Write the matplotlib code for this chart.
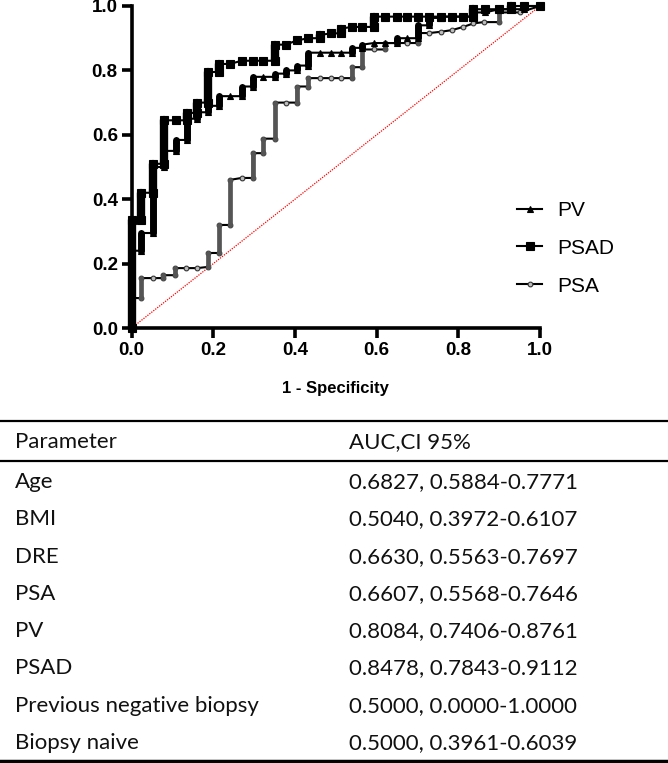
import numpy as np
import matplotlib.pyplot as plt
from matplotlib.ticker import FormatStrFormatter

# ROC points (1 - specificity, sensitivity)
pv_fpr = [0, 0, 0.024, 0.024, 0.053, 0.053, 0.080, 0.080, 0.108, 0.108, 0.135, 0.135,
          0.161, 0.161, 0.188, 0.188, 0.215, 0.215, 0.241, 0.269, 0.269, 0.298, 0.298,
          0.322, 0.351, 0.351, 0.378, 0.378, 0.404, 0.404, 0.433, 0.433, 0.460, 0.488,
          0.513, 0.539, 0.539, 0.565, 0.565, 0.593, 0.620, 0.649, 0.649, 0.675, 0.702,
          0.702, 0.729, 0.729, 0.757, 0.757, 0.784, 0.812, 0.837, 0.837, 0.865, 0.900,
          0.930, 0.960, 0.960, 1.0]
pv_tpr = [0, 0.240, 0.240, 0.295, 0.295, 0.500, 0.500, 0.550, 0.550, 0.584, 0.584, 0.650,
          0.650, 0.670, 0.670, 0.690, 0.690, 0.720, 0.720, 0.720, 0.750, 0.750, 0.780,
          0.780, 0.780, 0.790, 0.790, 0.800, 0.800, 0.815, 0.815, 0.855, 0.855, 0.855,
          0.855, 0.855, 0.870, 0.870, 0.880, 0.885, 0.885, 0.885, 0.900, 0.900, 0.900,
          0.940, 0.940, 0.963, 0.963, 0.967, 0.967, 0.967, 0.967, 0.980, 0.980, 0.990,
          0.990, 0.990, 1.0, 1.0]

psad_fpr = [0, 0, 0.024, 0.024, 0.053, 0.053, 0.080, 0.080, 0.108, 0.135, 0.135, 0.161,
            0.161, 0.188, 0.188, 0.215, 0.215, 0.241, 0.269, 0.298, 0.322, 0.351, 0.351,
            0.378, 0.404, 0.433, 0.460, 0.460, 0.488, 0.513, 0.513, 0.539, 0.565, 0.593,
            0.593, 0.620, 0.649, 0.675, 0.702, 0.729, 0.757, 0.784, 0.812, 0.837, 0.837,
            0.865, 0.900, 0.930, 0.930, 0.960, 1.0]
psad_tpr = [0, 0.335, 0.335, 0.420, 0.420, 0.510, 0.510, 0.645, 0.645, 0.645, 0.668, 0.668,
            0.700, 0.700, 0.795, 0.795, 0.820, 0.820, 0.830, 0.830, 0.830, 0.830, 0.880,
            0.880, 0.893, 0.900, 0.900, 0.910, 0.915, 0.915, 0.930, 0.935, 0.935, 0.935,
            0.967, 0.967, 0.967, 0.967, 0.967, 0.967, 0.967, 0.967, 0.967, 0.967, 0.990,
            0.990, 0.990, 0.990, 1.0, 1.0, 1.0]

psa_fpr = [0, 0, 0.024, 0.024, 0.051, 0.077, 0.077, 0.106, 0.106, 0.133, 0.161, 0.188,
           0.188, 0.215, 0.215, 0.241, 0.241, 0.269, 0.296, 0.296, 0.322, 0.322, 0.351,
           0.351, 0.378, 0.404, 0.404, 0.433, 0.433, 0.460, 0.488, 0.513, 0.539, 0.539,
           0.565, 0.565, 0.593, 0.620, 0.620, 0.649, 0.675, 0.702, 0.702, 0.729, 0.757,
           0.784, 0.812, 0.837, 0.862, 0.900, 0.900, 0.950, 1.0]
psa_tpr = [0, 0.093, 0.093, 0.155, 0.155, 0.155, 0.164, 0.164, 0.186, 0.186, 0.186, 0.190,
           0.233, 0.233, 0.320, 0.320, 0.460, 0.466, 0.466, 0.543, 0.543, 0.588, 0.588,
           0.700, 0.700, 0.700, 0.750, 0.750, 0.776, 0.776, 0.776, 0.776, 0.776, 0.810,
           0.810, 0.865, 0.865, 0.865, 0.885, 0.885, 0.885, 0.885, 0.916, 0.916, 0.920,
           0.925, 0.935, 0.946, 0.950, 0.950, 0.980, 0.980, 1.0]

# table
params = ["Age", "BMI", "DRE", "PSA", "PV", "PSAD",
          "Previous negative biopsy", "Biopsy naive"]
auc_ci = ["0.6827, 0.5884-0.7771", "0.5040, 0.3972-0.6107", "0.6630, 0.5563-0.7697",
          "0.6607, 0.5568-0.7646", "0.8084, 0.7406-0.8761", "0.8478, 0.7843-0.9112",
          "0.5000, 0.0000-1.0000", "0.5000, 0.3961-0.6039"]

W, H = 668, 763
fig = plt.figure(figsize=(W / 100, H / 100), dpi=100)
ax = fig.add_axes([131.7 / W, 1 - 328 / H, (540 - 131.7) / W, (328 - 6) / H])


def draw_roc(fpr, tpr, marker, ms, mfc, mec, bar_w, bar_c, label):
    fpr = np.asarray(fpr)
    tpr = np.asarray(tpr)
    ln, = ax.plot(fpr, tpr, color='black', lw=1.5, marker=marker, ms=ms, mfc=mfc,
                  mec=mec, mew=0.8, clip_on=False, label=label, zorder=4)
    # stacked points at the same x show as thick bars
    for i in np.where(np.diff(fpr) == 0)[0]:
        if tpr[i + 1] != tpr[i]:
            ax.plot([fpr[i], fpr[i]], [tpr[i], tpr[i + 1]], color=bar_c, lw=bar_w,
                    solid_capstyle='round', clip_on=False, zorder=4)
    return ln


ax.plot([0, 1], [0, 1], color='red', lw=0.9, ls=(0, (1, 1)), zorder=2)
h_psa = draw_roc(psa_fpr, psa_tpr, 'o', 3.4, '#bdbdbd', '#333333', 3.4, '#555555', 'PSA')
h_pv = draw_roc(pv_fpr, pv_tpr, '^', 5, 'black', 'black', 5.0, 'black', 'PV')
h_psad = draw_roc(psad_fpr, psad_tpr, 's', 6, 'black', 'black', 6.0, 'black', 'PSAD')

ax.set_xlim(0, 1)
ax.set_ylim(0, 1)
ax.set_xticks(np.arange(0, 1.01, 0.2))
ax.set_yticks(np.arange(0, 1.01, 0.2))
ax.xaxis.set_major_formatter(FormatStrFormatter('%.1f'))
ax.yaxis.set_major_formatter(FormatStrFormatter('%.1f'))
for s in ['top', 'right']:
    ax.spines[s].set_visible(False)
for s in ['left', 'bottom']:
    ax.spines[s].set_linewidth(2.6)
ax.tick_params(width=2.6, length=7, pad=3)
for lab in ax.get_xticklabels() + ax.get_yticklabels():
    lab.set_fontfamily('Liberation Sans')
    lab.set_fontweight('bold')
    lab.set_fontsize(13.5)
ax.set_xlabel('1 - Specificity', fontfamily='Liberation Sans', fontweight='bold',
              fontsize=12, labelpad=16)

ax.legend(handles=[h_pv, h_psad, h_psa], loc='upper left',
          bbox_to_anchor=(517 / W, 1 - 201 / H), bbox_transform=fig.transFigure,
          frameon=False, borderpad=0, borderaxespad=0, handlelength=1.2,
          handletextpad=0.75, labelspacing=0.9, numpoints=1,
          prop={'family': 'Liberation Sans', 'size': 15})

# table below the chart
tab = fig.add_axes([0, 0, 1, 1], zorder=-1)
tab.set_xlim(0, W)
tab.set_ylim(H, 0)
tab.axis('off')
tab.plot([0, W], [421, 421], color='black', lw=1.6)
tab.plot([0, W], [461, 461], color='black', lw=1.6)
tab.plot([0, W], [761, 761], color='black', lw=2.5)
tf = dict(family='Lato', fontsize=16, va='center', color='#111111')
tab.text(15, 442, 'Parameter', **tf)
tab.text(349, 442, 'AUC,CI 95%', **tf)
for i, (p, a) in enumerate(zip(params, auc_ci)):
    y = 482 + i * 37.3
    tab.text(15, y, p, **tf)
    tab.text(349, y, a, **tf)

fig.savefig('out.png', dpi=100)
